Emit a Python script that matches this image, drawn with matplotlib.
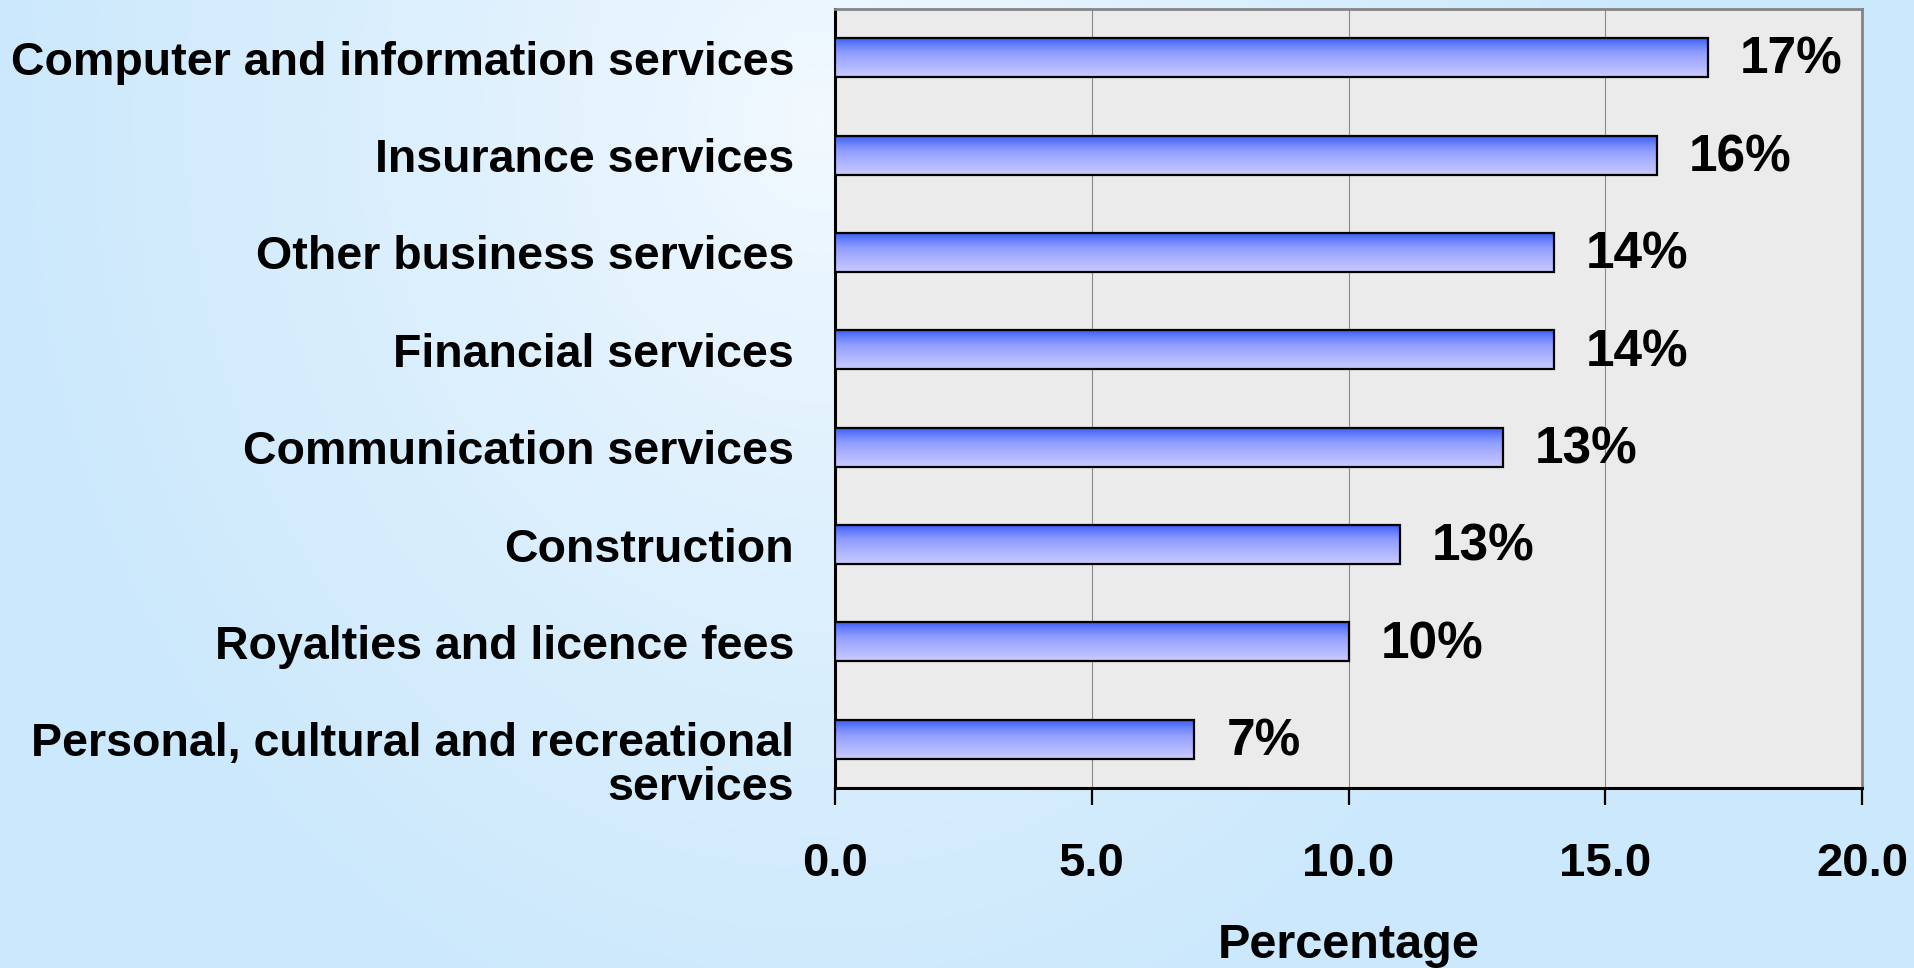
import numpy as np
import matplotlib
matplotlib.use("Agg")
import matplotlib.pyplot as plt
import matplotlib.transforms as mtransforms
from matplotlib.colors import LinearSegmentedColormap, to_rgb

# ---- data ----
categories = [
    "Computer and information services",
    "Insurance services",
    "Other business services",
    "Financial services",
    "Communication services",
    "Construction",
    "Royalties and licence fees",
    "Personal, cultural and recreational\nservices",
]
values = [17, 16, 14, 14, 13, 11, 10, 7]
value_labels = ["17%", "16%", "14%", "14%", "13%", "13%", "10%", "7%"]
xticks = [0.0, 5.0, 10.0, 15.0, 20.0]
xlabel = "Percentage"

plt.rcParams['font.family'] = ['Liberation Sans', 'DejaVu Sans']
plt.rcParams['font.weight'] = 'bold'

W, H = 1915, 968
fig = plt.figure(figsize=(W / 100, H / 100), dpi=100)

# ---- background gradient (figure) ----
bg = fig.add_axes([0, 0, 1, 1], zorder=-10)
bg.set_axis_off()
yy, xx = np.mgrid[0:H, 0:W]
cx, cy = 820.0, 120.0
d = np.sqrt(((xx - cx) / 850.0) ** 2 + ((yy - cy) / 1000.0) ** 2)
t = np.clip(d, 0, 1) ** 0.75
c0 = np.array(to_rgb("#f4faff"))
c1 = np.array(to_rgb("#cbe8fc"))
img = c0[None, None, :] * (1 - t[..., None]) + c1[None, None, :] * t[..., None]
bg.imshow(img, extent=[0, 1, 0, 1], aspect='auto', origin='upper')
bg.set_xlim(0, 1)
bg.set_ylim(0, 1)

# ---- main axes ----
ax = fig.add_axes([835 / W, 1 - 788 / H, (1862 - 835) / W, (788 - 9) / H])
ax.set_facecolor("#ebebeb")

ypos = np.arange(len(categories))
bar_h = 0.40
bars = ax.barh(ypos, values, height=bar_h, facecolor='none',
               edgecolor='black', linewidth=1.6, zorder=4)

grad = np.linspace(0, 1, 256) ** 0.7
cmap = LinearSegmentedColormap.from_list("bar", ["#2f55f6", "#8e9cff", "#c9caff"])
for rect in bars:
    x0 = rect.get_x()
    w = rect.get_width()
    y0 = rect.get_y()
    h = rect.get_height()
    im = ax.imshow(grad[:, None], cmap=cmap, vmin=0, vmax=1, aspect='auto',
                   extent=(x0, x0 + w, y0 + h, y0), origin='upper', zorder=3,
                   interpolation='bilinear')
    im.set_clip_path(rect)

for yv, v, lab in zip(ypos, values, value_labels):
    ax.annotate(lab, xy=(v, yv), xytext=(23, 2), textcoords='offset points',
                ha='left', va='center_baseline', fontsize=37, fontweight='bold',
                zorder=5)

ax.set_xlim(0, 20)
ax.set_ylim(len(categories) - 0.5, -0.5)
ax.set_xticks(xticks)
ax.set_xticklabels([f"{x:.1f}" for x in xticks])
ax.set_yticks(ypos)
ax.set_yticklabels(categories, linespacing=1.0)

ax.tick_params(axis='x', direction='out', length=12.2, width=1.6, pad=27,
               labelsize=34, colors='black')
ax.tick_params(axis='y', length=0, pad=29.5, labelsize=33.5)
for lab in ax.get_xticklabels() + ax.get_yticklabels():
    lab.set_fontweight('bold')

# multi-line labels: first line centred on the bar, extra lines below
for lab in ax.get_yticklabels():
    n_extra = lab.get_text().count("\n")
    if n_extra:
        off = mtransforms.ScaledTranslation(0, -0.215 * n_extra, fig.dpi_scale_trans)
        lab.set_transform(lab.get_transform() + off)

ax.xaxis.grid(True, color='#8a8a8a', linewidth=0.8, zorder=1)
ax.set_axisbelow(True)

ax.spines['left'].set_color('black')
ax.spines['left'].set_linewidth(2.2)
ax.spines['bottom'].set_color('black')
ax.spines['bottom'].set_linewidth(2.2)
ax.spines['top'].set_color('#858585')
ax.spines['top'].set_linewidth(2.0)
ax.spines['right'].set_color('#858585')
ax.spines['right'].set_linewidth(2.0)

ax.set_xlabel(xlabel, fontsize=35, fontweight='bold', labelpad=26)

fig.savefig("out.png", dpi=100)
